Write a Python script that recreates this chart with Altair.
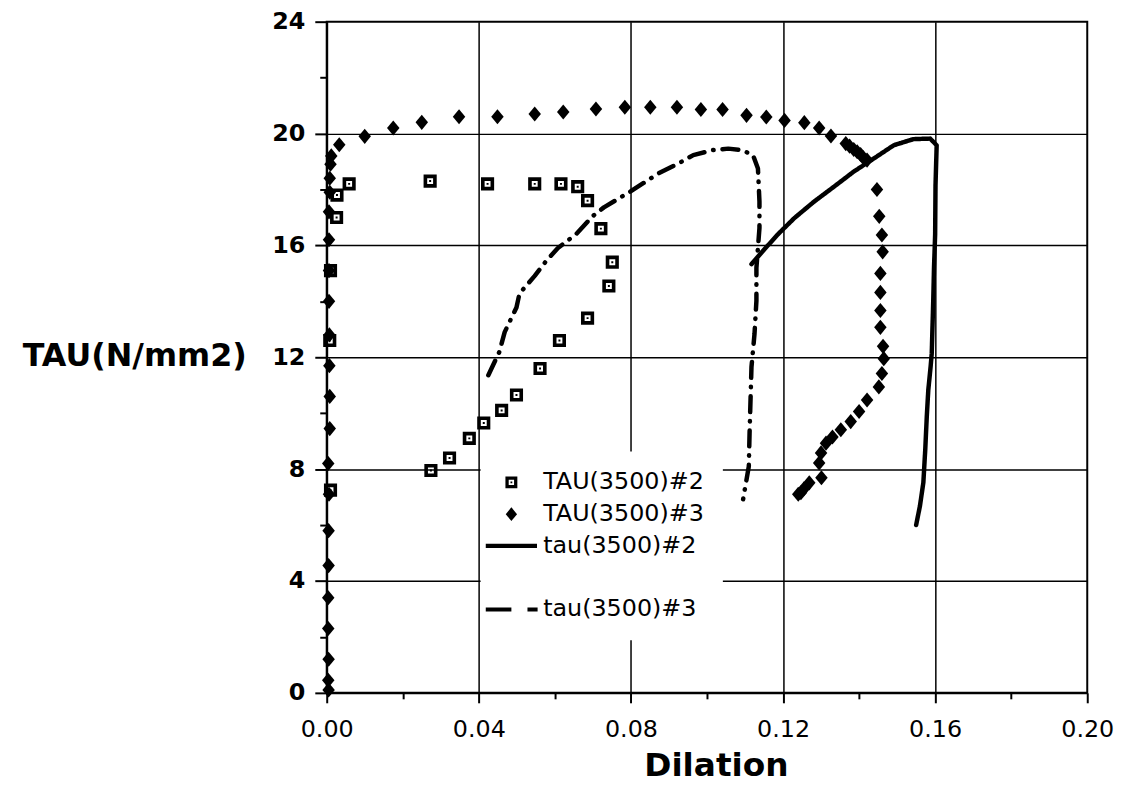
import altair as alt
import pandas as pd

# ---------------- data ----------------
series_names = ["TAU(3500)#2", "TAU(3500)#3", "tau(3500)#2", " ", "tau(3500)#3"]

# TAU(3500)#2 : hollow squares
sq_x = [0.0010, 0.0008, 0.0010, 0.0026, 0.0027, 0.0059, 0.0272, 0.0423, 0.0547,
        0.0616, 0.0660, 0.0686, 0.0721, 0.0751, 0.0742, 0.0686, 0.0612, 0.0561,
        0.0499, 0.0460, 0.0413, 0.0375, 0.0323, 0.0274]
sq_y = [7.25, 12.6, 15.1, 17.0, 17.8, 18.2, 18.3, 18.2, 18.2,
        18.2, 18.1, 17.6, 16.6, 15.4, 14.55, 13.4, 12.6, 11.6,
        10.65, 10.1, 9.65, 9.1, 8.4, 7.95]

# TAU(3500)#3 : filled diamonds
dm_x = [0.0005, 0.0004, 0.0005, 0.0004, 0.0004, 0.0005, 0.0005, 0.0006, 0.0004,
        0.0008, 0.0008, 0.0007, 0.0007, 0.0006, 0.0006, 0.0006, 0.0006, 0.0008,
        0.0008, 0.0010, 0.0012, 0.0033, 0.0100, 0.0175, 0.0250, 0.0348, 0.0449,
        0.0547, 0.0622, 0.0708, 0.0784, 0.0851, 0.0921, 0.0984, 0.1041, 0.1104,
        0.1156, 0.1204, 0.1256, 0.1295, 0.1326, 0.1365, 0.1375, 0.1386, 0.1395,
        0.1404, 0.1410, 0.1421, 0.1447, 0.1453, 0.1460, 0.1462, 0.1456, 0.1456,
        0.1456, 0.1456, 0.1463, 0.1465, 0.1460, 0.1452, 0.1421, 0.1400, 0.1378,
        0.1352, 0.1330, 0.1313, 0.1300, 0.1295, 0.1301, 0.1269, 0.1255, 0.1247,
        0.1240]
dm_y = [0.1, 0.45, 1.2, 2.3, 3.4, 4.55, 5.8, 7.1, 8.2,
        9.45, 10.6, 11.7, 12.8, 14.0, 15.1, 16.2, 17.2, 17.9,
        18.4, 18.9, 19.2, 19.6, 19.9, 20.2, 20.4, 20.6, 20.6,
        20.7, 20.77, 20.88, 20.94, 20.94, 20.94, 20.86, 20.86, 20.65,
        20.59, 20.47, 20.39, 20.2, 19.91, 19.64, 19.55, 19.43, 19.35,
        19.25, 19.15, 19.05, 18.0, 17.04, 16.37, 15.77, 15.0, 14.32,
        13.67, 13.07, 12.39, 11.95, 11.42, 10.94, 10.47, 10.06, 9.7,
        9.41, 9.15, 8.93, 8.58, 8.22, 7.69, 7.51, 7.3, 7.16,
        7.1]

# tau(3500)#2 : solid line (in drawing order)
s2_x = [0.1550, 0.1560, 0.1569, 0.1574, 0.1578, 0.1582, 0.1588, 0.1591, 0.1595,
        0.1597, 0.1600, 0.1601, 0.1604, 0.1587, 0.1543, 0.1491, 0.1439, 0.1386,
        0.1334, 0.1282, 0.1230, 0.1186, 0.1151, 0.1117]
s2_y = [6.0, 6.68, 7.52, 8.7, 9.88, 10.83, 11.65, 12.13, 14.02,
        15.2, 16.39, 18.16, 19.58, 19.82, 19.8, 19.58, 19.11, 18.64,
        18.1, 17.57, 16.98, 16.39, 15.86, 15.33]

# tau(3500)#3 : dash-dot line (in drawing order)
s3_x = [0.0425, 0.0454, 0.0468, 0.0499, 0.0507, 0.0547, 0.0577, 0.0608, 0.0655,
        0.0699, 0.0729, 0.0799, 0.0873, 0.0925, 0.0964, 0.1016, 0.1056, 0.1091,
        0.1121, 0.1134, 0.1138, 0.1138, 0.1130, 0.1130, 0.1125, 0.1117, 0.1112,
        0.1110, 0.1095]
s3_y = [11.36, 12.19, 12.9, 13.78, 14.28, 14.91, 15.44, 15.91, 16.39,
        17.04, 17.36, 17.93, 18.58, 18.93, 19.23, 19.41, 19.46, 19.41,
        19.23, 18.75, 17.57, 16.62, 15.2, 14.02, 12.84, 11.65, 9.29,
        8.1, 6.92]

x_ticks = [round(i * 0.02, 2) for i in range(11)]
y_ticks = list(range(0, 25, 2))

# symbol shapes (paths in the -1..1 box)
SQUARE = ("M-1,-1H1V1H-1Z M-0.45,-0.45V0.45H0.45V-0.45Z "
          "M-0.15,-0.15H0.15V0.15H-0.15Z")
DIAMOND = "M0,-1.15L0.95,0L0,1.15L-0.95,0Z"
SOLID = "M-4.3,-0.35H4.3V0.35H-4.3Z"
BLANK = "M0,0L0,0"
DASHED = "M-4.3,-0.35H0V0.35H-4.3Z M2.7,-0.35H4.4V0.35H2.7Z"
shape_paths = [SQUARE, DIAMOND, SOLID, BLANK, DASHED]

pts = pd.DataFrame({
    "x": sq_x + dm_x,
    "y": sq_y + dm_y,
    "series": [series_names[0]] * len(sq_x) + [series_names[1]] * len(dm_x),
})
lines = pd.DataFrame({
    "x": s2_x + s3_x,
    "y": s2_y + s3_y,
    "series": [series_names[2]] * len(s2_x) + [series_names[4]] * len(s3_x),
    "order": list(range(len(s2_x))) + list(range(len(s3_x))),
})

FONT = "DejaVu Sans"

xscale = alt.Scale(domain=[0, 0.2], nice=False, zero=False)
yscale = alt.Scale(domain=[0, 24], nice=False, zero=False)

x_major = "round(datum.value*100) % 4 == 0"
y_major = "datum.value % 4 == 0"

x_axis = alt.Axis(
    values=x_ticks,
    labelExpr=f"{x_major} ? format(datum.value, '.2f') : ''",
    tickSize={"condition": {"test": x_major, "value": 10}, "value": 6},
    gridOpacity={"condition": {"test": f"{x_major} && datum.value > 0.001 && datum.value < 0.199",
                               "value": 1}, "value": 0},
    labelFontSize=24, labelPadding=15, labelFont=FONT, labelFlush=False,
    title="Dilation", titleFontSize=33, titleFontWeight="bold", titleFont=FONT,
    titleX=392, titleY=73, titleAlign="center", titleBaseline="middle",
)
y_axis = alt.Axis(
    values=y_ticks,
    labelExpr=f"{y_major} ? datum.label : ''",
    tickSize={"condition": {"test": y_major, "value": 12}, "value": 7},
    gridOpacity={"condition": {"test": f"{y_major} && datum.value > 0 && datum.value < 24",
                               "value": 1}, "value": 0},
    labelFontSize=24, labelFontWeight="bold", labelPadding=10, labelFont=FONT, labelFlush=False,
    title="TAU(N/mm2)", titleFontSize=32, titleFontWeight="bold", titleFont=FONT,
    titleAngle=0, titleAlign="right", titleBaseline="middle", titleX=-81, titleY=336,
)

points = alt.Chart(pts).mark_point(filled=True, color="black", opacity=1, strokeWidth=0, size=175).encode(
    x=alt.X("x:Q", scale=xscale, axis=x_axis),
    y=alt.Y("y:Q", scale=yscale, axis=y_axis),
    shape=alt.Shape(
        "series:N",
        scale=alt.Scale(domain=series_names, range=shape_paths),
        legend=alt.Legend(
            title=None, orient="none", legendX=155, legendY=433,
            fillColor="white", padding=19, rowPadding=8,
            symbolSize=144, symbolFillColor="black", symbolStrokeWidth=0, symbolOpacity=1,
            labelFont=FONT, labelFontSize=24, labelOffset=20, labelColor="black",
            labelLimit=400,
        ),
    ),
)

curves = alt.Chart(lines).mark_line(color="black", strokeWidth=4.5, strokeCap="round", strokeJoin="round").encode(
    x=alt.X("x:Q", scale=xscale),
    y=alt.Y("y:Q", scale=yscale),
    order="order:Q",
    detail="series:N",
    strokeDash=alt.StrokeDash(
        "series:N",
        scale=alt.Scale(domain=[series_names[2], series_names[4]], range=[[1, 0], [16, 9, 0.5, 9]]),
        legend=None,
    ),
)

chart = alt.layer(curves, points).properties(
    width=766, height=676,
    autosize=alt.AutoSizeParams(type="none"),
    padding={"left": 321, "top": 11, "right": 35, "bottom": 88},
    background="white",
).configure_view(
    stroke="black", strokeWidth=2,
).configure_axis(
    domainColor="black", domainWidth=2, tickColor="black", tickWidth=2,
    gridColor="black", gridWidth=1.5, labelColor="black", titleColor="black",
)

chart.save("out.html", embed_options={"renderer": "svg", "actions": False})
